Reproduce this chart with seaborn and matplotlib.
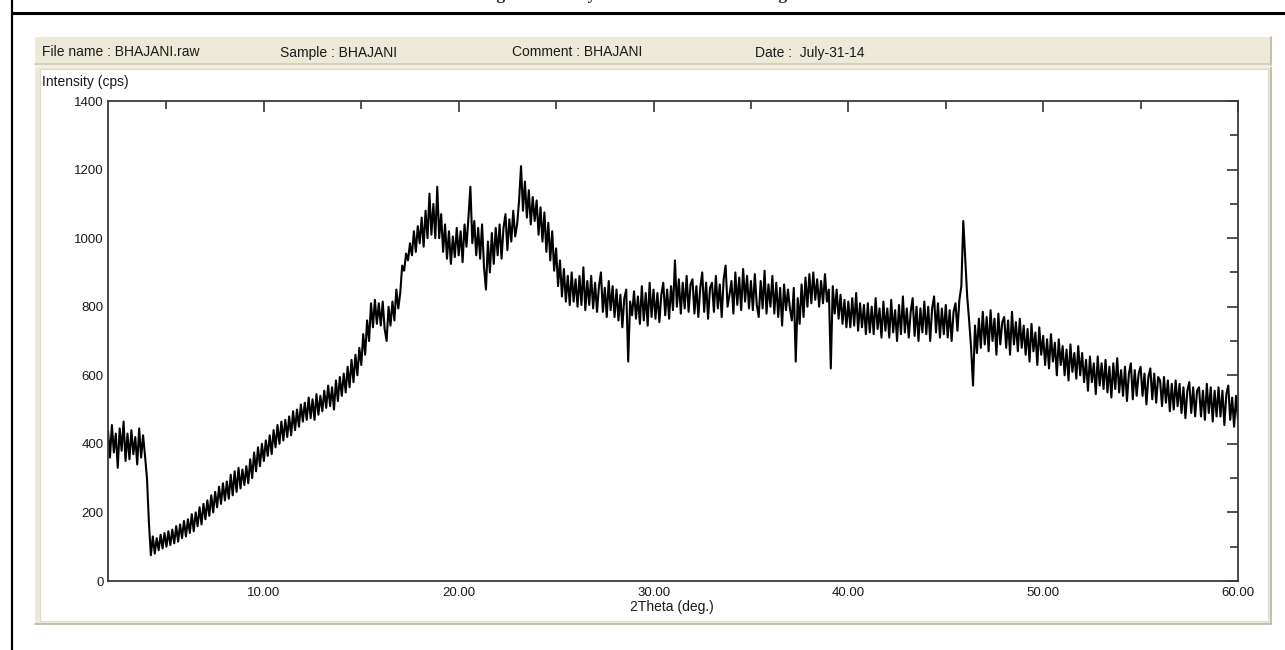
import numpy as np
import pandas as pd
import matplotlib
matplotlib.use("Agg")
import matplotlib.pyplot as plt
from matplotlib import font_manager
from matplotlib.patches import Rectangle
from matplotlib.lines import Line2D
from matplotlib.ticker import MultipleLocator, FuncFormatter
import seaborn as sns

# ---------------- data ----------------
two_theta_start = 2.0
two_theta_step = 0.1
# one row per degree: values at n.0, n.1, ... n.9 (cps)
intensity_rows = [
    [440, 360, 455, 375, 430, 330, 445, 380, 465, 350],   # 2
    [430, 355, 440, 370, 420, 340, 445, 360, 425, 365],   # 3
    [300, 170, 75, 130, 80, 125, 90, 135, 95, 140],       # 4
    [100, 145, 105, 150, 110, 160, 115, 165, 125, 175],   # 5
    [130, 180, 140, 195, 145, 200, 160, 215, 165, 225],   # 6
    [180, 235, 190, 250, 200, 260, 215, 275, 225, 285],   # 7
    [235, 290, 240, 310, 250, 320, 260, 330, 270, 325],   # 8
    [280, 335, 285, 355, 300, 375, 320, 390, 335, 400],   # 9
    [350, 410, 365, 425, 370, 440, 390, 455, 400, 465],   # 10
    [410, 470, 420, 480, 425, 495, 440, 500, 450, 515],   # 11
    [465, 520, 470, 535, 475, 530, 470, 545, 485, 540],   # 12
    [495, 555, 505, 570, 510, 565, 500, 585, 525, 595],   # 13
    [540, 605, 550, 625, 565, 645, 580, 660, 600, 680],   # 14
    [630, 720, 660, 760, 700, 810, 740, 820, 750, 810],   # 15
    [745, 815, 735, 700, 800, 745, 815, 760, 850, 795],   # 16
    [840, 920, 905, 955, 935, 985, 950, 1020, 960, 1035],  # 17
    [985, 1060, 975, 1080, 1000, 1130, 1010, 1100, 1000, 1150],  # 18
    [1000, 1070, 960, 1040, 940, 1020, 925, 1005, 945, 1030],  # 19
    [950, 1020, 930, 1040, 975, 1060, 1150, 985, 1050, 950],  # 20
    [1030, 940, 1040, 915, 850, 990, 900, 1015, 925, 1030],  # 21
    [950, 1040, 940, 1030, 1070, 965, 1055, 990, 1080, 1005],  # 22
    [1040, 1110, 1210, 1080, 1165, 1060, 1140, 1040, 1120, 1050],  # 23
    [1110, 1010, 1090, 990, 1075, 960, 1045, 935, 1020, 905],  # 24
    [970, 860, 935, 830, 910, 815, 890, 805, 900, 815],   # 25
    [880, 800, 890, 805, 915, 790, 875, 805, 890, 795],   # 26
    [870, 785, 860, 900, 785, 855, 770, 875, 790, 860],   # 27
    [770, 850, 760, 835, 740, 825, 850, 640, 815, 775],   # 28
    [845, 765, 830, 750, 860, 760, 840, 745, 870, 770],   # 29
    [850, 765, 840, 755, 835, 870, 775, 850, 765, 860],   # 30
    [790, 935, 800, 880, 780, 870, 795, 890, 785, 865],   # 31
    [880, 780, 860, 770, 855, 900, 785, 870, 765, 855],   # 32
    [870, 785, 890, 795, 865, 770, 880, 920, 800, 835],   # 33
    [875, 780, 900, 805, 885, 790, 910, 815, 890, 795],   # 34
    [875, 790, 895, 805, 770, 875, 795, 905, 780, 865],   # 35
    [800, 890, 780, 870, 770, 855, 745, 865, 790, 850],   # 36
    [795, 760, 855, 640, 825, 750, 865, 770, 885, 800],   # 37
    [895, 810, 900, 820, 880, 800, 875, 810, 895, 815],   # 38
    [850, 620, 860, 780, 850, 765, 835, 750, 820, 740],   # 39
    [815, 740, 825, 745, 840, 730, 810, 740, 805, 720],   # 40
    [810, 725, 800, 720, 825, 735, 795, 710, 815, 730],   # 41
    [795, 710, 820, 725, 790, 700, 805, 720, 830, 725],   # 42
    [795, 710, 785, 825, 715, 800, 700, 795, 725, 815],   # 43
    [720, 800, 700, 795, 830, 725, 810, 710, 795, 720],   # 44
    [805, 710, 790, 700, 785, 810, 730, 820, 860, 1050],  # 45
    [940, 830, 760, 680, 570, 745, 665, 765, 680, 785],   # 46
    [690, 770, 670, 790, 700, 765, 660, 780, 690, 755],   # 47
    [770, 680, 760, 660, 785, 690, 755, 670, 765, 680],   # 48
    [745, 660, 735, 640, 750, 670, 725, 630, 740, 660],   # 49
    [715, 630, 705, 620, 720, 640, 695, 600, 705, 630],   # 50
    [685, 600, 675, 585, 690, 610, 665, 590, 685, 600],   # 51
    [665, 580, 645, 555, 655, 580, 635, 545, 655, 570],   # 52
    [635, 560, 645, 550, 625, 535, 635, 560, 650, 550],   # 53
    [615, 540, 625, 525, 605, 635, 530, 615, 540, 605],   # 54
    [625, 540, 605, 515, 595, 620, 530, 605, 520, 595],   # 55
    [585, 510, 595, 520, 585, 495, 575, 500, 585, 510],   # 56
    [575, 490, 565, 475, 555, 580, 490, 565, 480, 555],   # 57
    [565, 480, 555, 470, 575, 490, 565, 465, 555, 480],   # 58
    [565, 480, 555, 455, 545, 570, 470, 535, 450, 540],   # 59
    [470],                                                # 60
]
header_texts = ["File name : BHAJANI.raw", "Sample : BHAJANI",
                "Comment : BHAJANI", "Date :  July-31-14"]
title_text = "Figure 3: X-ray Diffraction Pattern using XRD"
x_label = "2Theta (deg.)"
y_label = "Intensity (cps)"
x_limits = (2.0, 60.0)
y_limits = (0, 1400)

intensity = [v for row in intensity_rows for v in row]
two_theta = np.round(two_theta_start + two_theta_step * np.arange(len(intensity)), 2)
df = pd.DataFrame({"two_theta": two_theta, "intensity": intensity})

# ---------------- style ----------------
sns.set_style("white")
names = {f.name for f in font_manager.fontManager.ttflist}
narrow = "Liberation Sans Narrow" if "Liberation Sans Narrow" in names else "Liberation Sans"
plt.rcParams["font.family"] = [narrow, "DejaVu Sans"]

W, H = 1285, 650
fig = plt.figure(figsize=(W / 100, H / 100), dpi=100)
fig.patch.set_facecolor("white")


def fx(x):
    return x / W


def fy(y):
    return 1 - y / H


def rect(x0, y0, x1, y1, **kw):
    fig.patches.append(Rectangle((fx(x0), fy(y1)), fx(x1) - fx(x0), fy(y0) - fy(y1),
                                 transform=fig.transFigure, figure=fig, **kw))


def seg(x0, y0, x1, y1, **kw):
    fig.lines.append(Line2D([fx(x0), fx(x1)], [fy(y0), fy(y1)],
                            transform=fig.transFigure, figure=fig, **kw))


# outer document frame
seg(12, 0, 12, H, color="black", lw=1.6, zorder=-1)
seg(12, 13, W, 13, color="black", lw=2.2, zorder=-1)
fig.text(fx(481), fy(0) + 1.0 / H, title_text, ha="left", va="baseline",
         fontsize=12.5, fontweight="bold", family=["Liberation Serif", "DejaVu Serif"])

# application window panel
rect(35, 37, 1271, 624, facecolor="#ECE9D8", edgecolor="none", zorder=-5)
seg(1271, 37, 1271, 624, color="#B9B5A5", lw=1.2, zorder=-4)
seg(35, 624, 1271, 624, color="#B9B5A5", lw=1.2, zorder=-4)
seg(35, 63.5, 1271, 63.5, color="#CFCBBB", lw=1.2, zorder=-4)
seg(35, 65.5, 1271, 65.5, color="#F7F5EE", lw=1.0, zorder=-4)
rect(40, 69, 1268, 621, facecolor="white", edgecolor="#DEDACB", lw=0.8, zorder=-3)

hdr_font = 10 if narrow == "Liberation Sans" else 10.5
for txt, x in zip(header_texts, [42, 280, 512, 755]):
    fig.text(fx(x), fy(52.5), txt, ha="left", va="center", fontsize=hdr_font, color="#1a1a1a")

fig.text(fx(42), fy(82), y_label, ha="left", va="center", fontsize=hdr_font, color="#1a1a1a")
fig.text(fx(672), fy(607), x_label, ha="center", va="center", fontsize=hdr_font, color="#1a1a1a")

# ---------------- axes ----------------
ax = fig.add_axes([fx(108), fy(581), fx(1238) - fx(108), fy(101) - fy(581)])
ax.set_zorder(5)
ax.patch.set_alpha(0)
sns.lineplot(data=df, x="two_theta", y="intensity", ax=ax, color="black",
             linewidth=1.5, estimator=None, sort=False)

ax.set_xlim(*x_limits)
ax.set_ylim(*y_limits)
ax.set_xlabel("")
ax.set_ylabel("")
ax.xaxis.set_major_locator(MultipleLocator(10))
ax.xaxis.set_minor_locator(MultipleLocator(5))
ax.yaxis.set_major_locator(MultipleLocator(200))
ax.yaxis.set_minor_locator(MultipleLocator(100))
ax.xaxis.set_major_formatter(FuncFormatter(lambda v, p: f"{v:.2f}"))
ax.yaxis.set_major_formatter(FuncFormatter(lambda v, p: f"{int(v)}"))
ax.tick_params(axis="both", which="both", direction="in", top=True, right=True,
               color="#333333", width=1.2, labelsize=9.5, labelcolor="#1a1a1a")
ax.tick_params(axis="both", which="major", length=8)
ax.tick_params(axis="both", which="minor", length=6)
ax.tick_params(axis="y", pad=3)
ax.tick_params(axis="x", pad=4)
for s in ax.spines.values():
    s.set_color("#3a3a3a")
    s.set_linewidth(1.3)
    s.set_visible(True)

fig.savefig("out.png", dpi=100, facecolor="white")
